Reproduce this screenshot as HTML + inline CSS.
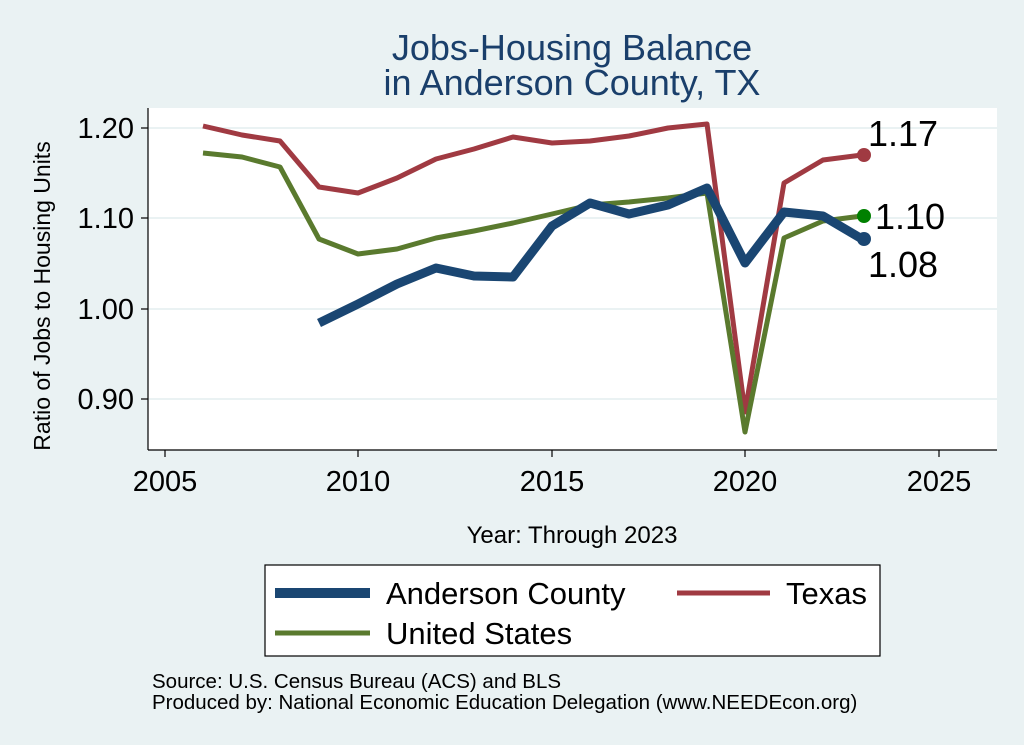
<!DOCTYPE html>
<html><head><meta charset="utf-8"><style>
body{margin:0;background:#eaf2f3;}
svg{display:block;font-family:"Liberation Sans",sans-serif;}
</style></head><body>
<svg width="1024" height="745" viewBox="0 0 1024 745">
<rect width="1024" height="745" fill="#eaf2f3"/>
<rect x="148" y="108" width="849" height="342" fill="#fff"/>
<g stroke="#eaf2f3" stroke-width="2">
<line x1="148" x2="997" y1="128" y2="128"/><line x1="148" x2="997" y1="218" y2="218"/>
<line x1="148" x2="997" y1="309" y2="309"/><line x1="148" x2="997" y1="399" y2="399"/>
</g>
<g stroke="#000" stroke-width="1.2">
<line x1="148" x2="148" y1="108" y2="450"/><line x1="148" x2="997" y1="450" y2="450"/>
<line x1="141" x2="148" y1="128" y2="128"/><line x1="141" x2="148" y1="218" y2="218"/>
<line x1="141" x2="148" y1="309" y2="309"/><line x1="141" x2="148" y1="399" y2="399"/>
<line x1="165" x2="165" y1="450" y2="457"/><line x1="358" x2="358" y1="450" y2="457"/>
<line x1="552" x2="552" y1="450" y2="457"/><line x1="745" x2="745" y1="450" y2="457"/>
<line x1="939" x2="939" y1="450" y2="457"/>
</g>
<g font-size="29" text-anchor="end" fill="#000">
<text x="134" y="138">1.20</text><text x="134" y="228">1.10</text><text x="134" y="319">1.00</text><text x="134" y="409">0.90</text>
</g>
<g font-size="29" text-anchor="middle" fill="#000">
<text x="165" y="491">2005</text><text x="358" y="491">2010</text><text x="552" y="491">2015</text><text x="745" y="491">2020</text><text x="939" y="491">2025</text>
</g>
<text x="572" y="543" font-size="24" text-anchor="middle">Year: Through 2023</text>
<text transform="translate(50,296) rotate(-90)" font-size="23" text-anchor="middle">Ratio of Jobs to Housing Units</text>
<text x="572" y="60" font-size="36" fill="#1a3f6b" text-anchor="middle">Jobs-Housing Balance</text>
<text x="572" y="95" font-size="36" fill="#1a3f6b" text-anchor="middle">in Anderson County, TX</text>
<g fill="none" stroke-linejoin="round">
<polyline stroke="#a03a42" stroke-width="5" points="203,126 242,135 280,141 319,187 358,193 397,178 436,159 474,149 513,137 552,143 590,141 629,136 668,128 707,124 745,412 784,183 823,160 862,155"/>
<polyline stroke="#5a7a2e" stroke-width="5" points="203,153 242,157 280,167 319,239 358,254 397,249 436,238 474,231 513,223 552,214 590,205 629,202 668,198 707,193 745,432 784,238 823,221 862,216"/>
<polyline stroke="#1a4672" stroke-width="9" points="319,323 358,304 397,284 436,268 474,276 513,277 552,226 590,203 629,214 668,205 707,188 745,263 784,212 823,216 862,239"/>
</g>
<circle cx="864" cy="155" r="7" fill="#a03a42"/>
<circle cx="864" cy="216" r="7" fill="#008000"/>
<circle cx="864" cy="239" r="7" fill="#1a4672"/>
<g font-size="36" fill="#000">
<text x="868" y="146">1.17</text><text x="875" y="229">1.10</text><text x="868" y="277">1.08</text>
</g>
<rect x="265" y="565" width="615" height="91" fill="#fff" stroke="#000" stroke-width="1.2"/>
<line x1="275" x2="370" y1="593" y2="593" stroke="#1a4672" stroke-width="10"/>
<text x="386" y="604" font-size="31">Anderson County</text>
<line x1="677" x2="770" y1="593" y2="593" stroke="#a03a42" stroke-width="5"/>
<text x="786" y="604" font-size="31">Texas</text>
<line x1="275" x2="370" y1="633" y2="633" stroke="#5a7a2e" stroke-width="5"/>
<text x="386" y="644" font-size="31">United States</text>
<text x="152" y="688" font-size="20.5">Source: U.S. Census Bureau (ACS) and BLS</text>
<text x="152" y="709" font-size="20.5">Produced by: National Economic Education Delegation (www.NEEDEcon.org)</text>
</svg>
</body></html>
